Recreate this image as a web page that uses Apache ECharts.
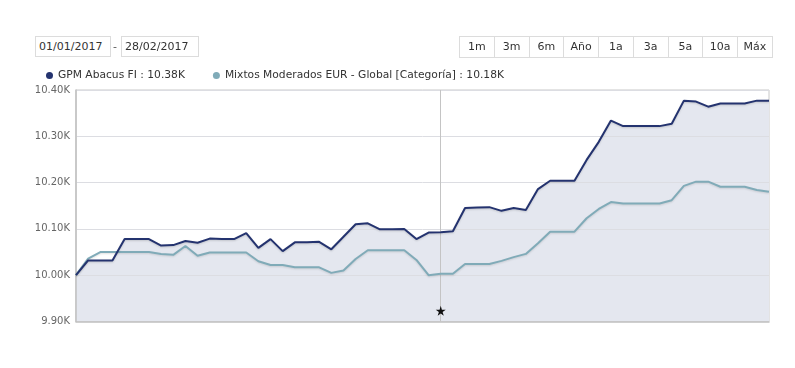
<!DOCTYPE html>
<html>
<head>
<meta charset="utf-8">
<script src="https://cdn.jsdelivr.net/npm/echarts@6/dist/echarts.min.js"></script>
<style>
  html, body { margin: 0; padding: 0; background: #fff; }
  body { width: 795px; height: 368px; position: relative; overflow: hidden; font-family: "DejaVu Sans", Verdana, sans-serif; }
  #chart { position: absolute; left: 0; top: 0; width: 795px; height: 368px; }
  .box { position: absolute; top: 36px; height: 19px; border: 1px solid #dcdcdc; font-size: 11px; line-height: 19px; color: #333; background: #fff; box-sizing: content-box; }
  .dash { position: absolute; top: 36px; left: 113px; font-size: 11px; line-height: 21px; color: #555; }
  #btns { position: absolute; left: 459px; top: 36px; height: 20px; display: flex; border: 1px solid #dcdcdc; border-right: none; }
  #btns div { width: 33.75px; height: 20px; border-right: 1px solid #dcdcdc; font-size: 11px; line-height: 20px; text-align: center; color: #333; background: #fff; }
</style>
</head>
<body>
<div id="chart"></div>
<div class="box" id="d1" style="left:35px;width:71px;padding-left:3px;">01/01/2017</div>
<div class="dash">-</div>
<div class="box" id="d2" style="left:121px;width:73px;padding-left:3px;">28/02/2017</div>
<div id="btns"></div>
<script>
const rangeButtons = ["1m", "3m", "6m", "Año", "1a", "3a", "5a", "10a", "Máx"];
const categories = [
  "02/01/2017","03/01/2017","04/01/2017","05/01/2017","06/01/2017","07/01/2017","08/01/2017","09/01/2017","10/01/2017","11/01/2017",
  "12/01/2017","13/01/2017","14/01/2017","15/01/2017","16/01/2017","17/01/2017","18/01/2017","19/01/2017","20/01/2017","21/01/2017",
  "22/01/2017","23/01/2017","24/01/2017","25/01/2017","26/01/2017","27/01/2017","28/01/2017","29/01/2017","30/01/2017","31/01/2017",
  "01/02/2017","02/02/2017","03/02/2017","04/02/2017","05/02/2017","06/02/2017","07/02/2017","08/02/2017","09/02/2017","10/02/2017",
  "11/02/2017","12/02/2017","13/02/2017","14/02/2017","15/02/2017","16/02/2017","17/02/2017","18/02/2017","19/02/2017","20/02/2017",
  "21/02/2017","22/02/2017","23/02/2017","24/02/2017","25/02/2017","26/02/2017","27/02/2017","28/02/2017"
];
const gpmName = "GPM Abacus FI";
const gpmValues = [
  10000, 10032, 10032, 10032, 10078, 10078, 10078, 10064, 10065, 10074,
  10070, 10079, 10078, 10078, 10091, 10059, 10078, 10052, 10071, 10071,
  10072, 10056, 10083, 10110, 10112, 10099, 10099, 10100, 10078, 10092,
  10093, 10095, 10145, 10146, 10147, 10139, 10145, 10141, 10186, 10204,
  10204, 10204, 10249, 10288, 10334, 10322, 10322, 10322, 10322, 10327,
  10377, 10375, 10364, 10371, 10371, 10371, 10377, 10377
];
const catName = "Mixtos Moderados EUR - Global [Categoría]";
const catValues = [
  10000, 10036, 10050, 10050, 10050, 10050, 10050, 10046, 10044, 10063,
  10042, 10049, 10049, 10049, 10049, 10030, 10022, 10022, 10017, 10017,
  10017, 10005, 10010, 10035, 10054, 10054, 10054, 10054, 10033, 10000,
  10003, 10003, 10024, 10024, 10024, 10031, 10039, 10046, 10069, 10094,
  10094, 10094, 10123, 10143, 10158, 10155, 10155, 10155, 10155, 10162,
  10193, 10202, 10202, 10191, 10191, 10191, 10184, 10180
];
const yTicks = { min: 9900, max: 10400, interval: 100 };
const markerDate = "01/02/2017";
const markerValue = 9923;

document.getElementById('btns').innerHTML = rangeButtons.map(b => '<div>' + b + '</div>').join('');

const fmtK = v => (v / 1000).toFixed(2) + 'K';
const lastOf = a => a[a.length - 1];
const navy = '#24336f', teal = '#80abb8';

const chart = echarts.init(document.getElementById('chart'), null, { renderer: 'canvas' });
chart.setOption({
  animation: false,
  textStyle: { fontFamily: '"DejaVu Sans", Verdana, sans-serif' },
  legend: {
    left: 41, top: 65, itemWidth: 7, itemHeight: 7, itemGap: 28, icon: 'circle',
    data: [gpmName, catName],
    textStyle: { fontSize: 10.7, color: '#333', padding: [0, 0, 0, 0] },
    formatter: name => name + ' : ' + fmtK(lastOf(name === gpmName ? gpmValues : catValues))
  },
  grid: { left: 76, right: 26, top: 90, bottom: 46.5, show: true, borderColor: '#c8c8c8', borderWidth: 1, backgroundColor: 'transparent' },
  xAxis: {
    type: 'category', data: categories, boundaryGap: false, z: 3,
    axisLine: { show: true, lineStyle: { color: '#c0c0c0', width: 1.5 } }, axisTick: { show: false }, axisLabel: { show: false }, splitLine: { show: false }
  },
  yAxis: {
    type: 'value', min: yTicks.min, max: yTicks.max, interval: yTicks.interval, z: 3,
    axisLine: { show: true, lineStyle: { color: '#c0c0c0', width: 1.5 } }, axisTick: { show: false },
    axisLabel: { formatter: fmtK, fontSize: 10, color: '#666', margin: 6 },
    splitLine: { lineStyle: { color: '#dcdde2', width: 1 } }
  },
  series: [
    {
      name: gpmName, type: 'line', data: gpmValues, symbol: 'none', z: 1,
      itemStyle: { color: navy },
      lineStyle: { width: 0, opacity: 0 },
      areaStyle: { color: '#e4e7ef', opacity: 1, origin: 'start' },
      markLine: {
        silent: true, symbol: 'none', label: { show: false },
        lineStyle: { color: '#c4c4c4', width: 1, type: 'solid' },
        data: [{ xAxis: markerDate }]
      }
    },
    {
      name: gpmName, type: 'line', data: gpmValues, symbol: 'none', z: 6,
      itemStyle: { color: navy },
      lineStyle: { color: navy, width: 2, shadowColor: 'rgba(0,0,0,0.15)', shadowBlur: 2, shadowOffsetY: 1 },
      markPoint: {
        symbol: 'path://M50,0 L61,35 L98,35 L68,57 L79,91 L50,70 L21,91 L32,57 L2,35 L39,35 Z',
        symbolSize: 10, itemStyle: { color: '#111' }, label: { show: false },
        data: [{ coord: [markerDate, markerValue] }]
      }
    },
    {
      name: catName, type: 'line', data: catValues, symbol: 'none', z: 5,
      itemStyle: { color: teal },
      lineStyle: { color: teal, width: 2, shadowColor: 'rgba(0,0,0,0.12)', shadowBlur: 2, shadowOffsetY: 1 }
    }
  ]
});
</script>
</body>
</html>
